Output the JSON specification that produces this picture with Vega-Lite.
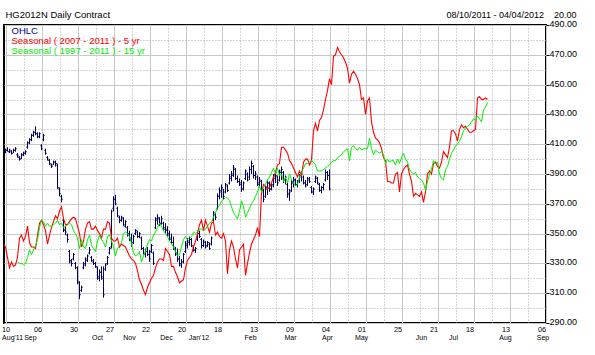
{
"$schema": "https://vega.github.io/schema/vega-lite/v6.json",
"width": 542, "height": 298,
"autosize": {"type": "none"},
"padding": {"left": 4, "top": 25, "right": 49, "bottom": 32},
"background": "#ffffff",
"config": {"font": "Liberation Sans", "view": {"stroke": "#000000", "strokeWidth": 2}},
"datasets": {
"ohlc": [
{"t":0,"l":404,"h":407,"o":405,"c":406},{"t":1,"l":405,"h":408,"o":406,"c":405},{"t":2,"l":404,"h":407,"o":405,"c":406},{"t":3,"l":403,"h":406,"o":405,"c":404},{"t":4,"l":404,"h":407,"o":404,"c":406},{"t":5,"l":405,"h":408,"o":406,"c":407},{"t":6,"l":401,"h":404,"o":403,"c":402},{"t":7,"l":399,"h":402,"o":401,"c":400},{"t":8,"l":400,"h":404,"o":400,"c":403},{"t":9,"l":402,"h":405,"o":403,"c":404},
{"t":10,"l":403,"h":406,"o":404,"c":405},{"t":11,"l":407,"h":412,"o":408,"c":411},{"t":12,"l":410,"h":414,"o":411,"c":413},{"t":13,"l":412,"h":417,"o":413,"c":416},{"t":14,"l":415,"h":419,"o":416,"c":418},{"t":15,"l":416,"h":422,"o":418,"c":417},{"t":16,"l":414,"h":418,"o":417,"c":415},{"t":17,"l":414,"h":418,"o":415,"c":417},{"t":18,"l":406,"h":410,"o":409,"c":407},{"t":19,"l":412,"h":417,"o":413,"c":416},
{"t":20,"l":403,"h":407,"o":406,"c":404},{"t":21,"l":399,"h":402,"o":401,"c":400},{"t":22,"l":396,"h":400,"o":399,"c":397},{"t":23,"l":394,"h":397,"o":396,"c":395},{"t":24,"l":396,"h":399,"o":396,"c":398},{"t":25,"l":395,"h":399,"o":398,"c":397},{"t":26,"l":380,"h":397,"o":396,"c":381},{"t":27,"l":375,"h":381,"o":380,"c":377},{"t":28,"l":371,"h":376,"o":375,"c":373},{"t":29,"l":351,"h":360,"o":359,"c":353},
{"t":30,"l":349,"h":355,"o":352,"c":351},{"t":31,"l":344,"h":350,"o":349,"c":346},{"t":32,"l":330,"h":339,"o":338,"c":332},{"t":33,"l":328,"h":333,"o":331,"c":330},{"t":34,"l":332,"h":337,"o":333,"c":336},{"t":35,"l":326,"h":331,"o":330,"c":327},{"t":36,"l":316,"h":328,"o":327,"c":318},{"t":37,"l":306,"h":318,"o":317,"c":309},{"t":38,"l":311,"h":315,"o":312,"c":314},{"t":39,"l":326,"h":331,"o":327,"c":330},
{"t":40,"l":328,"h":334,"o":329,"c":333},{"t":41,"l":331,"h":336,"o":332,"c":335},{"t":42,"l":336,"h":341,"o":337,"c":339},{"t":43,"l":331,"h":335,"o":334,"c":332},{"t":44,"l":329,"h":333,"o":331,"c":330},{"t":45,"l":327,"h":331,"o":330,"c":328},{"t":46,"l":319,"h":328,"o":327,"c":321},{"t":47,"l":318,"h":326,"o":320,"c":324},{"t":48,"l":319,"h":328,"o":324,"c":320},{"t":49,"l":307,"h":328,"o":321,"c":309},
{"t":50,"l":325,"h":330,"o":326,"c":329},{"t":51,"l":329,"h":335,"o":330,"c":334},{"t":52,"l":336,"h":341,"o":337,"c":340},{"t":53,"l":340,"h":366,"o":341,"c":365},{"t":54,"l":365,"h":375,"o":367,"c":373},{"t":55,"l":369,"h":376,"o":373,"c":370},{"t":56,"l":361,"h":368,"o":367,"c":362},{"t":57,"l":357,"h":362,"o":361,"c":359},{"t":58,"l":358,"h":362,"o":359,"c":361},{"t":59,"l":355,"h":361,"o":360,"c":356},
{"t":60,"l":354,"h":359,"o":355,"c":358},{"t":61,"l":348,"h":355,"o":354,"c":349},{"t":62,"l":345,"h":352,"o":350,"c":347},{"t":63,"l":341,"h":350,"o":346,"c":343},{"t":64,"l":343,"h":349,"o":344,"c":348},{"t":65,"l":349,"h":353,"o":350,"c":352},{"t":66,"l":347,"h":352,"o":351,"c":348},{"t":67,"l":347,"h":351,"o":348,"c":350},{"t":68,"l":339,"h":348,"o":347,"c":340},{"t":69,"l":336,"h":341,"o":340,"c":337},
{"t":70,"l":334,"h":340,"o":336,"c":338},{"t":71,"l":335,"h":341,"o":338,"c":336},{"t":72,"l":331,"h":339,"o":336,"c":333},{"t":73,"l":337,"h":343,"o":338,"c":342},{"t":74,"l":329,"h":338,"o":337,"c":330},{"t":75,"l":353,"h":361,"o":354,"c":360},{"t":76,"l":356,"h":363,"o":359,"c":361},{"t":77,"l":355,"h":361,"o":360,"c":357},{"t":78,"l":356,"h":362,"o":357,"c":360},{"t":79,"l":352,"h":358,"o":357,"c":353},
{"t":80,"l":350,"h":357,"o":354,"c":352},{"t":81,"l":348,"h":355,"o":353,"c":349},{"t":82,"l":345,"h":352,"o":350,"c":346},{"t":83,"l":343,"h":350,"o":347,"c":344},{"t":84,"l":339,"h":348,"o":344,"c":341},{"t":85,"l":335,"h":341,"o":340,"c":336},{"t":86,"l":331,"h":340,"o":337,"c":333},{"t":87,"l":328,"h":335,"o":333,"c":330},{"t":88,"l":327,"h":333,"o":329,"c":331},{"t":89,"l":330,"h":337,"o":331,"c":336},
{"t":90,"l":337,"h":345,"o":338,"c":343},{"t":91,"l":340,"h":347,"o":342,"c":345},{"t":92,"l":342,"h":348,"o":344,"c":346},{"t":93,"l":341,"h":347,"o":346,"c":342},{"t":94,"l":338,"h":342,"o":341,"c":339},{"t":95,"l":337,"h":341,"o":339,"c":340},{"t":96,"l":345,"h":352,"o":346,"c":350},{"t":97,"l":347,"h":352,"o":350,"c":348},{"t":98,"l":340,"h":347,"o":346,"c":342},{"t":99,"l":341,"h":346,"o":342,"c":345},
{"t":100,"l":340,"h":345,"o":344,"c":341},{"t":101,"l":341,"h":345,"o":342,"c":344},{"t":102,"l":339,"h":344,"o":343,"c":340},{"t":103,"l":342,"h":348,"o":343,"c":347},{"t":104,"l":358,"h":365,"o":359,"c":364},{"t":105,"l":359,"h":364,"o":363,"c":361},{"t":106,"l":366,"h":377,"o":367,"c":375},{"t":107,"l":373,"h":381,"o":375,"c":379},{"t":108,"l":374,"h":383,"o":378,"c":381},{"t":109,"l":373,"h":380,"o":380,"c":375},
{"t":110,"l":377,"h":384,"o":378,"c":383},{"t":111,"l":378,"h":383,"o":382,"c":379},{"t":112,"l":383,"h":390,"o":384,"c":388},{"t":113,"l":385,"h":392,"o":387,"c":390},{"t":114,"l":388,"h":396,"o":389,"c":394},{"t":115,"l":386,"h":394,"o":393,"c":387},{"t":116,"l":384,"h":389,"o":387,"c":385},{"t":117,"l":382,"h":387,"o":385,"c":383},{"t":118,"l":378,"h":386,"o":384,"c":380},{"t":119,"l":379,"h":385,"o":380,"c":384},
{"t":120,"l":386,"h":393,"o":387,"c":392},{"t":121,"l":385,"h":391,"o":390,"c":386},{"t":122,"l":386,"h":395,"o":388,"c":393},{"t":123,"l":390,"h":399,"o":393,"c":397},{"t":124,"l":387,"h":396,"o":395,"c":389},{"t":125,"l":386,"h":392,"o":389,"c":390},{"t":126,"l":382,"h":389,"o":388,"c":384},{"t":127,"l":381,"h":388,"o":383,"c":386},{"t":128,"l":378,"h":386,"o":385,"c":380},{"t":129,"l":371,"h":380,"o":379,"c":373},
{"t":130,"l":374,"h":382,"o":375,"c":380},{"t":131,"l":376,"h":386,"o":381,"c":384},{"t":132,"l":378,"h":385,"o":384,"c":380},{"t":133,"l":379,"h":384,"o":380,"c":383},{"t":134,"l":381,"h":390,"o":382,"c":388},{"t":135,"l":384,"h":392,"o":387,"c":389},{"t":136,"l":382,"h":389,"o":388,"c":384},{"t":137,"l":385,"h":393,"o":386,"c":392},{"t":138,"l":386,"h":395,"o":391,"c":393},{"t":139,"l":384,"h":392,"o":391,"c":386},
{"t":140,"l":383,"h":389,"o":386,"c":388},{"t":141,"l":374,"h":384,"o":383,"c":376},{"t":142,"l":372,"h":380,"o":377,"c":378},{"t":143,"l":378,"h":386,"o":379,"c":384},{"t":144,"l":381,"h":388,"o":384,"c":386},{"t":145,"l":382,"h":387,"o":386,"c":383},{"t":146,"l":381,"h":386,"o":383,"c":385},{"t":147,"l":384,"h":390,"o":385,"c":389},{"t":148,"l":385,"h":392,"o":388,"c":390},{"t":149,"l":383,"h":389,"o":388,"c":384},
{"t":150,"l":381,"h":386,"o":384,"c":382},{"t":151,"l":382,"h":388,"o":383,"c":387},{"t":152,"l":384,"h":388,"o":386,"c":385},{"t":153,"l":377,"h":382,"o":381,"c":378},{"t":154,"l":376,"h":381,"o":378,"c":380},{"t":155,"l":384,"h":389,"o":385,"c":388},{"t":156,"l":383,"h":388,"o":387,"c":384},{"t":157,"l":378,"h":384,"o":383,"c":379},{"t":158,"l":377,"h":382,"o":379,"c":381},{"t":159,"l":379,"h":384,"o":381,"c":383},
{"t":160,"l":385,"h":393,"o":386,"c":391},{"t":161,"l":386,"h":392,"o":391,"c":389},{"t":162,"l":379,"h":393,"o":389,"c":380}
],
"red": [
{"t":-1,"v":343},{"t":0,"v":341},{"t":1,"v":334},{"t":2,"v":327},{"t":3,"v":331},{"t":4,"v":328},{"t":5,"v":329},{"t":6,"v":334},{"t":7,"v":347},{"t":8,"v":349},{"t":9,"v":345},
{"t":10,"v":348},{"t":11,"v":355},{"t":12,"v":344},{"t":13,"v":341},{"t":14,"v":341},{"t":15,"v":340},{"t":16,"v":349},{"t":17,"v":357},{"t":18,"v":359},{"t":19,"v":356},
{"t":20,"v":352},{"t":21,"v":343},{"t":22,"v":349},{"t":23,"v":354},{"t":24,"v":358},{"t":25,"v":362},{"t":26,"v":360},{"t":27,"v":365},{"t":28,"v":368},{"t":29,"v":360},
{"t":30,"v":356},{"t":31,"v":356},{"t":32,"v":358},{"t":33,"v":360},{"t":34,"v":361},{"t":35,"v":360},{"t":36,"v":355},{"t":37,"v":350},{"t":38,"v":341},{"t":39,"v":345},
{"t":40,"v":353},{"t":41,"v":357},{"t":42,"v":358},{"t":43,"v":353},{"t":44,"v":353},{"t":45,"v":355},{"t":46,"v":352},{"t":47,"v":350},{"t":48,"v":347},{"t":49,"v":353},
{"t":50,"v":353},{"t":51,"v":358},{"t":52,"v":357},{"t":53,"v":347},{"t":54,"v":345},{"t":55,"v":345},{"t":56,"v":347},{"t":57,"v":341},{"t":58,"v":343},{"t":59,"v":342},
{"t":60,"v":341},{"t":61,"v":338},{"t":62,"v":335},{"t":63,"v":333},{"t":64,"v":332},{"t":65,"v":330},{"t":66,"v":325},{"t":67,"v":319},{"t":68,"v":316},{"t":69,"v":312},
{"t":70,"v":309},{"t":71,"v":314},{"t":72,"v":317},{"t":73,"v":320},{"t":74,"v":322},{"t":75,"v":327},{"t":76,"v":331},{"t":77,"v":333},{"t":78,"v":333},{"t":79,"v":332},
{"t":80,"v":340},{"t":81,"v":338},{"t":82,"v":336},{"t":83,"v":328},{"t":84,"v":328},{"t":85,"v":324},{"t":86,"v":321},{"t":87,"v":317},{"t":88,"v":318},{"t":89,"v":319},
{"t":90,"v":327},{"t":91,"v":332},{"t":92,"v":334},{"t":93,"v":336},{"t":94,"v":341},{"t":95,"v":345},{"t":96,"v":350},{"t":97,"v":356},{"t":98,"v":359},{"t":99,"v":352},
{"t":100,"v":359},{"t":101,"v":355},{"t":102,"v":351},{"t":103,"v":357},{"t":104,"v":358},{"t":105,"v":349},{"t":106,"v":351},{"t":107,"v":348},{"t":108,"v":347},{"t":109,"v":350},
{"t":110,"v":345},{"t":111,"v":323},{"t":112,"v":339},{"t":113,"v":345},{"t":114,"v":341},{"t":115,"v":333},{"t":116,"v":327},{"t":117,"v":339},{"t":118,"v":341},{"t":119,"v":343},
{"t":120,"v":322},{"t":121,"v":330},{"t":122,"v":337},{"t":123,"v":343},{"t":124,"v":346},{"t":125,"v":349},{"t":126,"v":354},{"t":127,"v":348},{"t":128,"v":377},{"t":129,"v":383},
{"t":130,"v":382},{"t":131,"v":380},{"t":132,"v":381},{"t":133,"v":384},{"t":134,"v":388},{"t":135,"v":391},{"t":136,"v":396},{"t":137,"v":397},{"t":138,"v":408},{"t":139,"v":408},
{"t":140,"v":406},{"t":141,"v":404},{"t":142,"v":399},{"t":143,"v":397},{"t":144,"v":394},{"t":145,"v":391},{"t":146,"v":388},{"t":147,"v":392},{"t":148,"v":389},{"t":149,"v":398},
{"t":150,"v":400},{"t":151,"v":400},{"t":152,"v":396},{"t":153,"v":399},{"t":154,"v":419},{"t":155,"v":424},{"t":156,"v":419},{"t":157,"v":426},{"t":158,"v":428},{"t":159,"v":433},
{"t":160,"v":440},{"t":161,"v":446},{"t":162,"v":454},{"t":163,"v":450},{"t":164,"v":469},{"t":165,"v":470},{"t":166,"v":475},{"t":167,"v":472},{"t":168,"v":470},{"t":169,"v":468},
{"t":170,"v":465},{"t":171,"v":461},{"t":172,"v":451},{"t":173,"v":457},{"t":174,"v":459},{"t":175,"v":457},{"t":176,"v":454},{"t":177,"v":450},{"t":178,"v":440},{"t":179,"v":441},
{"t":180,"v":430},{"t":181,"v":439},{"t":182,"v":441},{"t":183,"v":425},{"t":184,"v":418},{"t":185,"v":414},{"t":186,"v":413},{"t":187,"v":411},{"t":188,"v":407},{"t":189,"v":401},
{"t":190,"v":399},{"t":191,"v":385},{"t":192,"v":385},{"t":193,"v":384},{"t":194,"v":384},{"t":195,"v":390},{"t":196,"v":391},{"t":197,"v":378},{"t":198,"v":390},{"t":199,"v":393},
{"t":200,"v":395},{"t":201,"v":396},{"t":202,"v":390},{"t":203,"v":385},{"t":204,"v":375},{"t":205,"v":377},{"t":206,"v":376},{"t":207,"v":375},{"t":208,"v":378},{"t":209,"v":371},
{"t":210,"v":378},{"t":211,"v":390},{"t":212,"v":392},{"t":213,"v":390},{"t":214,"v":397},{"t":215,"v":398},{"t":216,"v":395},{"t":217,"v":394},{"t":218,"v":398},{"t":219,"v":405},
{"t":220,"v":403},{"t":221,"v":401},{"t":222,"v":408},{"t":223,"v":419},{"t":224,"v":419},{"t":225,"v":417},{"t":226,"v":412},{"t":227,"v":420},{"t":228,"v":423},{"t":229,"v":421},
{"t":230,"v":422},{"t":231,"v":420},{"t":232,"v":418},{"t":233,"v":418},{"t":234,"v":419},{"t":235,"v":420},{"t":236,"v":441},{"t":237,"v":442},{"t":238,"v":440},{"t":239,"v":440},
{"t":240,"v":441},{"t":241,"v":440}
],
"green": [
{"t":6,"v":331},{"t":7,"v":330},{"t":8,"v":330},{"t":9,"v":329},
{"t":10,"v":330},{"t":11,"v":334},{"t":12,"v":339},{"t":13,"v":336},{"t":14,"v":339},{"t":15,"v":342},{"t":16,"v":346},{"t":17,"v":354},{"t":18,"v":359},{"t":19,"v":358},
{"t":20,"v":355},{"t":21,"v":357},{"t":22,"v":355},{"t":23,"v":355},{"t":24,"v":356},{"t":25,"v":357},{"t":26,"v":359},{"t":27,"v":356},{"t":28,"v":357},{"t":29,"v":354},
{"t":30,"v":355},{"t":31,"v":356},{"t":32,"v":357},{"t":33,"v":356},{"t":34,"v":352},{"t":35,"v":350},{"t":36,"v":347},{"t":37,"v":340},{"t":38,"v":346},{"t":39,"v":341},
{"t":40,"v":340},{"t":41,"v":346},{"t":42,"v":349},{"t":43,"v":342},{"t":44,"v":340},{"t":45,"v":338},{"t":46,"v":345},{"t":47,"v":349},{"t":48,"v":346},{"t":49,"v":344},
{"t":50,"v":341},{"t":51,"v":348},{"t":52,"v":349},{"t":53,"v":345},{"t":54,"v":341},{"t":55,"v":335},{"t":56,"v":340},{"t":57,"v":342},{"t":58,"v":344},{"t":59,"v":350},
{"t":60,"v":351},{"t":61,"v":350},{"t":62,"v":348},{"t":63,"v":343},{"t":64,"v":337},{"t":65,"v":335},{"t":66,"v":336},{"t":67,"v":338},{"t":68,"v":331},{"t":69,"v":335},
{"t":70,"v":338},{"t":71,"v":343},{"t":72,"v":346},{"t":73,"v":345},{"t":74,"v":349},{"t":75,"v":351},{"t":76,"v":354},{"t":77,"v":357},{"t":78,"v":355},{"t":79,"v":352},
{"t":80,"v":350},{"t":81,"v":348},{"t":82,"v":345},{"t":83,"v":343},{"t":84,"v":341},{"t":85,"v":338},{"t":86,"v":335},{"t":87,"v":336},{"t":88,"v":341},{"t":89,"v":346},
{"t":90,"v":348},{"t":91,"v":346},{"t":92,"v":347},{"t":93,"v":348},{"t":94,"v":351},{"t":95,"v":350},{"t":96,"v":351},{"t":97,"v":353},{"t":98,"v":353},{"t":99,"v":352},
{"t":100,"v":353},{"t":101,"v":355},{"t":102,"v":357},{"t":103,"v":358},{"t":104,"v":361},{"t":105,"v":364},{"t":106,"v":367},{"t":107,"v":369},{"t":108,"v":372},{"t":109,"v":373},
{"t":110,"v":374},{"t":111,"v":374},{"t":112,"v":372},{"t":113,"v":368},{"t":114,"v":364},{"t":115,"v":362},{"t":116,"v":360},{"t":117,"v":365},{"t":118,"v":372},{"t":119,"v":368},
{"t":120,"v":361},{"t":121,"v":364},{"t":122,"v":367},{"t":123,"v":370},{"t":124,"v":372},{"t":125,"v":375},{"t":126,"v":378},{"t":127,"v":382},{"t":128,"v":378},{"t":129,"v":381},
{"t":130,"v":383},{"t":131,"v":386},{"t":132,"v":388},{"t":133,"v":391},{"t":134,"v":394},{"t":135,"v":390},{"t":136,"v":394},{"t":137,"v":389},{"t":138,"v":390},{"t":139,"v":385},
{"t":140,"v":388},{"t":141,"v":384},{"t":142,"v":390},{"t":143,"v":386},{"t":144,"v":384},{"t":145,"v":382},{"t":146,"v":383},{"t":147,"v":388},{"t":148,"v":391},{"t":149,"v":394},
{"t":150,"v":397},{"t":151,"v":397},{"t":152,"v":398},{"t":153,"v":399},{"t":154,"v":398},{"t":155,"v":396},{"t":156,"v":392},{"t":157,"v":392},{"t":158,"v":392},{"t":159,"v":393},
{"t":160,"v":394},{"t":161,"v":395},{"t":162,"v":396},{"t":163,"v":398},{"t":164,"v":399},{"t":165,"v":399},{"t":166,"v":401},{"t":167,"v":402},{"t":168,"v":403},{"t":169,"v":405},
{"t":170,"v":406},{"t":171,"v":407},{"t":172,"v":399},{"t":173,"v":408},{"t":174,"v":409},{"t":175,"v":407},{"t":176,"v":406},{"t":177,"v":408},{"t":178,"v":406},{"t":179,"v":407},
{"t":180,"v":407},{"t":181,"v":407},{"t":182,"v":414},{"t":183,"v":407},{"t":184,"v":403},{"t":185,"v":406},{"t":186,"v":405},{"t":187,"v":404},{"t":188,"v":405},{"t":189,"v":403},
{"t":190,"v":397},{"t":191,"v":400},{"t":192,"v":398},{"t":193,"v":399},{"t":194,"v":399},{"t":195,"v":396},{"t":196,"v":400},{"t":197,"v":397},{"t":198,"v":401},{"t":199,"v":404},
{"t":200,"v":400},{"t":201,"v":398},{"t":202,"v":393},{"t":203,"v":391},{"t":204,"v":390},{"t":205,"v":391},{"t":206,"v":388},{"t":207,"v":387},{"t":208,"v":386},{"t":209,"v":384},
{"t":210,"v":379},{"t":211,"v":385},{"t":212,"v":390},{"t":213,"v":393},{"t":214,"v":399},{"t":215,"v":397},{"t":216,"v":398},{"t":217,"v":390},{"t":218,"v":387},{"t":219,"v":386},
{"t":220,"v":393},{"t":221,"v":395},{"t":222,"v":400},{"t":223,"v":404},{"t":224,"v":406},{"t":225,"v":409},{"t":226,"v":410},{"t":227,"v":412},{"t":228,"v":415},{"t":229,"v":419},
{"t":230,"v":421},{"t":231,"v":422},{"t":232,"v":423},{"t":233,"v":425},{"t":234,"v":427},{"t":235,"v":426},{"t":236,"v":429},{"t":237,"v":427},{"t":238,"v":425},{"t":239,"v":433},
{"t":240,"v":435},{"t":241,"v":438}
]
},
"resolve": {"axis": {"x": "independent", "y": "independent"}},
"layer": [
{
"data": {"name": "ohlc"},
"mark": {"type": "rule", "color": "#000060", "strokeWidth": 1, "clip": true},
"encoding": {
"x": {"field": "t", "type": "quantitative", "scale": {"domain": [-0.75, 270.25], "nice": false, "zero": false},
"axis": {"orient": "bottom", "values": [0,18,36,54,72,90,108,126,144,162,180,198,216,234,252,270],
"labelExpr": "['10','06','30','27','22','20','18','13','09','04','01','25','21','18','13','06'][round(datum.value/18)]",
"labelAlign": {"condition": {"test": "datum.value == 0", "value": "center"}, "value": "right"},
"labelBaseline": "top", "labelPadding": 2, "labelFontSize": 7.3, "labelColor": "#000000",
"ticks": false, "domain": false,
"grid": true, "gridColor": "#c8c8c8", "gridWidth": 1, "labelFlush": false, "labelOverlap": false, "labelBound": false, "title": null}},
"y": {"field": "l", "type": "quantitative", "scale": {"domain": [290, 490], "nice": false, "zero": false},
"axis": {"orient": "right", "values": [290,310,330,350,370,390,410,430,450,470,490], "format": ".2f",
"labelFontSize": 9, "labelColor": "#000000", "labelPadding": 0, "labelBaseline": "middle", "labelOffset": -1.5, "labelFlush": false, "labelOverlap": false,
"tickSize": 3, "tickColor": "#000000", "domain": false,
"grid": true, "gridColor": "#c8c8c8", "gridWidth": 1,
"title": "08/10/2011 - 04/04/2012\u00a0\u00a0\u00a0\u00a020.00", "titleAngle": 0, "titleAlign": "right", "titleBaseline": "alphabetic", "titleX": 30, "titleY": -8, "titleFontSize": 9, "titleFontWeight": "normal", "titleColor": "#000000"}},
"y2": {"field": "h"}
}
},
{
"data": {"name": "ohlc"},
"mark": {"type": "tick", "orient": "horizontal", "color": "#000060", "size": 1, "thickness": 1, "xOffset": -1, "clip": true},
"encoding": {
"x": {"field": "t", "type": "quantitative", "scale": {"domain": [-0.75, 270.25], "nice": false, "zero": false},
"axis": {"orient": "bottom", "values": [3.3,12.2,45.75,61.75,80.25,96.5,122.25,142.25,160.75,177.75,207.75,223.75,249.75,268.5],
"labelExpr": "[\"Aug'11\",\"Sep\",\"Oct\",\"Nov\",\"Dec\",\"Jan'12\",\"Feb\",\"Mar\",\"Apr\",\"May\",\"Jun\",\"Jul\",\"Aug\",\"Sep\"][indexof([3.3,12.2,45.75,61.75,80.25,96.5,122.25,142.25,160.75,177.75,207.75,223.75,249.75,268.5], datum.value)]",
"labelAlign": "center", "labelBaseline": "top", "labelPadding": 10, "labelFontSize": 7, "labelColor": "#000000",
"ticks": false, "domain": false, "grid": false, "labelFlush": false, "labelOverlap": false, "labelBound": false, "title": null}},
"y": {"field": "o", "type": "quantitative", "scale": {"domain": [290, 490], "nice": false, "zero": false},
"axis": {"orient": "right", "values": [300,320,340,360,380,400,420,440,460,480], "labels": false, "ticks": false, "domain": false,
"grid": true, "gridColor": "#a8a8a8", "gridDash": [1, 2], "gridWidth": 1, "title": null}}
}
},
{
"data": {"name": "ohlc"},
"mark": {"type": "tick", "orient": "horizontal", "color": "#000060", "size": 1, "thickness": 1, "xOffset": 1, "clip": true},
"encoding": {
"x": {"field": "t", "type": "quantitative", "scale": {"domain": [-0.75, 270.25], "nice": false, "zero": false},
"axis": {"orient": "top", "values": [9,27,45,63,81,99,117,135,153,171,189,207,225,243,261], "labels": false, "ticks": false, "domain": false,
"grid": true, "gridColor": "#a8a8a8", "gridDash": [1, 2], "gridWidth": 1,
"title": "HG2012N Daily Contract", "titleX": 1, "titleY": -8, "titleAlign": "left", "titleAnchor": "start", "titleBaseline": "alphabetic", "titleFontSize": 9.5, "titleFontWeight": "normal", "titleColor": "#000000"}},
"y": {"field": "c", "type": "quantitative", "scale": {"domain": [290, 490], "nice": false, "zero": false}, "axis": null}
}
},
{
"data": {"name": "red"},
"mark": {"type": "line", "strokeWidth": 1.1, "clip": true},
"encoding": {
"x": {"field": "t", "type": "quantitative", "scale": {"domain": [-0.75, 270.25], "nice": false, "zero": false}, "axis": null},
"y": {"field": "v", "type": "quantitative", "scale": {"domain": [290, 490], "nice": false, "zero": false}, "axis": null},
"color": {"datum": "r", "type": "nominal",
"scale": {"domain": ["o", "r", "g"], "range": ["#000080", "#ff0000", "#00ee00"]},
"legend": {"orient": "none", "legendX": -2, "legendY": 1, "title": null, "direction": "vertical",
"symbolOpacity": 0, "symbolSize": 0, "symbolStrokeWidth": 0, "labelOffset": 0, "padding": 0, "rowPadding": -2,
"labelFont": "Liberation Sans", "labelFontSize": 9.5, "labelLimit": 300,
"labelExpr": "datum.value == 'o' ? 'OHLC' : datum.value == 'r' ? 'Seasonal ( 2007 - 2011 ) - 5 yr' : 'Seasonal ( 1997 - 2011 ) - 15 yr'",
"encode": {"labels": {"update": {"fill": {"scale": "color", "field": "value"}}}}}}
}
},
{
"data": {"name": "green"},
"mark": {"type": "line", "strokeWidth": 1, "clip": true},
"encoding": {
"x": {"field": "t", "type": "quantitative", "scale": {"domain": [-0.75, 270.25], "nice": false, "zero": false}, "axis": null},
"y": {"field": "v", "type": "quantitative", "scale": {"domain": [290, 490], "nice": false, "zero": false}, "axis": null},
"color": {"datum": "g", "type": "nominal"}
}
}
]
}
